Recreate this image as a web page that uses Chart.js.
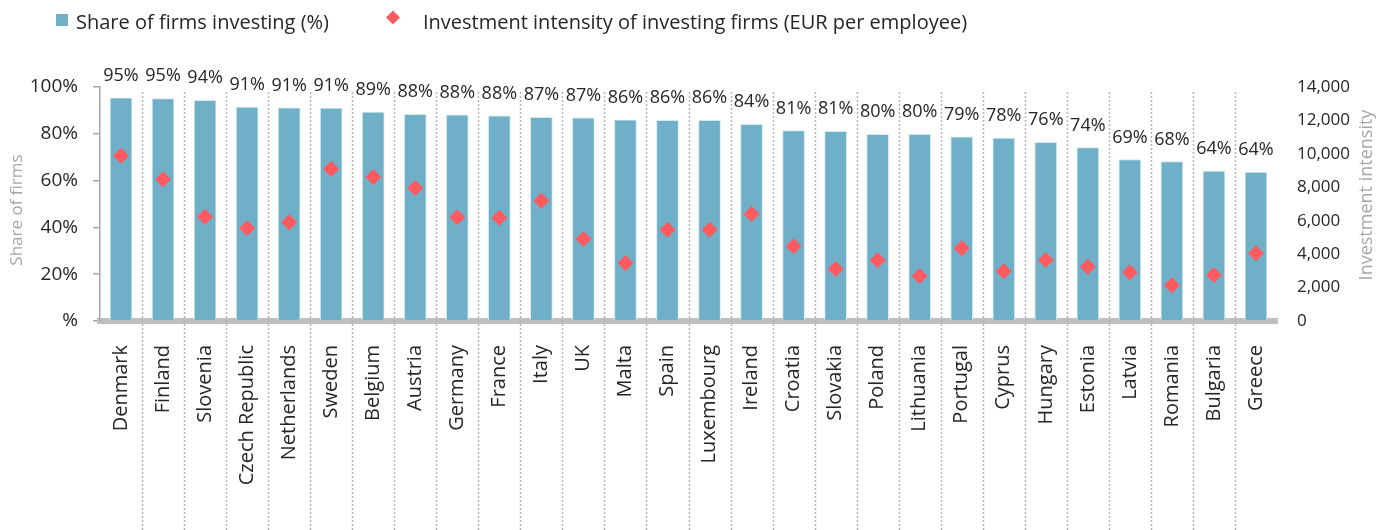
<!DOCTYPE html>
<html lang="en">
<head>
    <meta charset="UTF-8">
    <title>Share of firms investing and investment intensity</title>
    <script src="https://cdn.jsdelivr.net/npm/chart.js@4.4.0/dist/chart.umd.min.js"></script>
    <style>
        body { margin: 0; background: #fff; }
        .chart-container { position: relative; width: 1383px; height: 530px; }
    </style>
</head>
<body>
    <div class="chart-container">
        <canvas id="chart"></canvas>
    </div>

    <script>
        // data
        const countries = ['Denmark', 'Finland', 'Slovenia', 'Czech Republic', 'Netherlands', 'Sweden', 'Belgium',
            'Austria', 'Germany', 'France', 'Italy', 'UK', 'Malta', 'Spain', 'Luxembourg', 'Ireland', 'Croatia',
            'Slovakia', 'Poland', 'Lithuania', 'Portugal', 'Cyprus', 'Hungary', 'Estonia', 'Latvia', 'Romania',
            'Bulgaria', 'Greece'];

        // share of firms investing (%)
        const shareInvesting = [95.4, 95.1, 94.3, 91.4, 91.1, 91.0, 89.3, 88.3, 88.1, 87.7, 87.0, 86.8, 86.0, 85.8,
            85.8, 84.1, 81.4, 81.1, 79.8, 79.8, 78.7, 78.2, 76.4, 74.1, 69.0, 68.1, 64.1, 63.6];

        // investment intensity of investing firms (EUR per employee)
        const intensity = [9890, 8480, 6240, 5550, 5910, 9100, 8620, 7960, 6210, 6180, 7200, 4910, 3470, 5460,
            5460, 6400, 4470, 3110, 3630, 2690, 4350, 2970, 3650, 3250, 2910, 2140, 2750, 4050];

        const shareTicks = [0, 20, 40, 60, 80, 100];
        const intensityTicks = [0, 2000, 4000, 6000, 8000, 10000, 12000, 14000];

        const BAR_COLOR = '#6FB0C8';
        const DIAMOND_COLOR = '#FF5A5F';
        const TEXT_COLOR = '#262626';
        const TITLE_COLOR = '#A6A6A6';
        const FONT = "'Open Sans', sans-serif";

        // percentage labels above bars, dotted separators, axis titles, legend
        const extrasPlugin = {
            id: 'extras',
            afterDraw(chart) {
                const ctx = chart.ctx;
                const x = chart.scales.x;
                const area = chart.chartArea;
                ctx.save();

                // dotted separators between categories
                ctx.strokeStyle = '#B4B4B4';
                ctx.lineWidth = 1.5;
                ctx.setLineDash([2, 2]);
                for (let i = 0; i < countries.length - 1; i++) {
                    const px = Math.round((x.getPixelForTick(i) + x.getPixelForTick(i + 1)) / 2) + 0.5;
                    ctx.beginPath();
                    ctx.moveTo(px, area.top + 5);
                    ctx.lineTo(px, chart.height);
                    ctx.stroke();
                }
                ctx.setLineDash([]);

                // value labels
                ctx.fillStyle = TEXT_COLOR;
                ctx.font = '18px ' + FONT;
                ctx.textAlign = 'center';
                ctx.textBaseline = 'alphabetic';
                chart.getDatasetMeta(0).data.forEach((bar, i) => {
                    ctx.fillText(Math.round(shareInvesting[i]) + '%', bar.x, bar.y - 17);
                });

                // axis titles
                const midY = (area.top + area.bottom) / 2;
                ctx.fillStyle = TITLE_COLOR;
                ctx.textBaseline = 'middle';
                ctx.save();
                ctx.font = '17px ' + FONT;
                ctx.translate(17, midY + 6);
                ctx.rotate(-Math.PI / 2);
                ctx.fillText('Share of firms', 0, 0);
                ctx.restore();
                ctx.save();
                ctx.font = '18px ' + FONT;
                ctx.translate(1367, midY - 9);
                ctx.rotate(-Math.PI / 2);
                ctx.fillText('Investment intensity', 0, 0);
                ctx.restore();

                // legend
                ctx.font = '20px ' + FONT;
                ctx.textAlign = 'left';
                ctx.textBaseline = 'alphabetic';
                ctx.fillStyle = BAR_COLOR;
                ctx.fillRect(56, 14, 12, 12);
                ctx.fillStyle = TEXT_COLOR;
                ctx.fillText(chart.data.datasets[0].label, 76, 29);
                ctx.fillStyle = DIAMOND_COLOR;
                ctx.beginPath();
                ctx.moveTo(393, 10.5);
                ctx.lineTo(400, 17.5);
                ctx.lineTo(393, 24.5);
                ctx.lineTo(386, 17.5);
                ctx.closePath();
                ctx.fill();
                ctx.fillStyle = TEXT_COLOR;
                ctx.fillText(chart.data.datasets[1].label, 423, 29);

                ctx.restore();
            }
        };

        const ctx = document.getElementById('chart').getContext('2d');
        new Chart(ctx, {
            type: 'bar',
            data: {
                labels: countries,
                datasets: [
                    {
                        label: 'Share of firms investing (%)',
                        data: shareInvesting,
                        backgroundColor: BAR_COLOR,
                        borderColor: '#D3E9F1',
                        borderWidth: 1,
                        barThickness: 22,
                        yAxisID: 'y',
                        order: 2
                    },
                    {
                        type: 'line',
                        label: 'Investment intensity of investing firms (EUR per employee)',
                        data: intensity,
                        showLine: false,
                        pointStyle: 'rectRot',
                        pointRadius: 8,
                        pointHoverRadius: 8,
                        pointBackgroundColor: DIAMOND_COLOR,
                        pointBorderWidth: 0,
                        borderColor: DIAMOND_COLOR,
                        yAxisID: 'y2',
                        order: 1
                    }
                ]
            },
            options: {
                responsive: true,
                maintainAspectRatio: false,
                animation: false,
                layout: { padding: { top: 87, left: 0, right: 0, bottom: 0 } },
                plugins: {
                    legend: { display: false },
                    tooltip: { enabled: false }
                },
                scales: {
                    x: {
                        grid: { display: false, drawTicks: false },
                        border: { display: true, color: '#BFBFBF', width: 6 },
                        ticks: {
                            minRotation: 90,
                            maxRotation: 90,
                            autoSkip: false,
                            padding: 24,
                            color: TEXT_COLOR,
                            font: { family: FONT, size: 20 }
                        },
                        afterFit(scale) { scale.height = 209; }
                    },
                    y: {
                        position: 'left',
                        min: 0,
                        max: 100,
                        afterBuildTicks(scale) { scale.ticks = shareTicks.map(v => ({ value: v })); },
                        grid: { drawOnChartArea: false, drawTicks: true, tickLength: 7, color: '#A6A6A6', lineWidth: 1.5 },
                        border: { display: true, color: '#A6A6A6', width: 1.5 },
                        ticks: {
                            padding: 15,
                            color: TEXT_COLOR,
                            font: { family: FONT, size: 19 },
                            callback: v => (v === 0 ? '%' : v + '%')
                        },
                        afterFit(scale) { scale.width = 100; }
                    },
                    y2: {
                        position: 'right',
                        min: 0,
                        max: 14000,
                        afterBuildTicks(scale) { scale.ticks = intensityTicks.map(v => ({ value: v })); },
                        grid: { display: false, drawTicks: false },
                        border: { display: false },
                        ticks: {
                            padding: 20,
                            color: TEXT_COLOR,
                            font: { family: FONT, size: 17 },
                            callback: v => v.toLocaleString('en-US')
                        },
                        afterFit(scale) { scale.width = 106; }
                    }
                }
            },
            plugins: [extrasPlugin]
        });
    </script>
</body>
</html>
